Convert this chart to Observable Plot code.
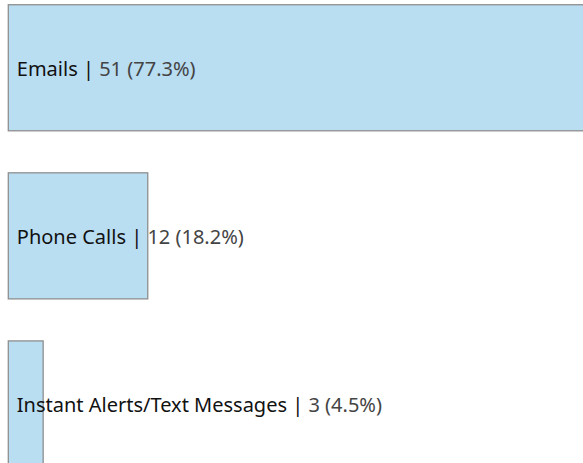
<!DOCTYPE html>
<html>
<head>
<meta charset="utf-8">
<script src="https://cdn.jsdelivr.net/npm/d3@7"></script>
<script src="https://cdn.jsdelivr.net/npm/@observablehq/plot@0.6"></script>
<style>
  html, body { margin: 0; padding: 0; background: #fff; }
  svg { overflow: hidden; display: block; }
</style>
</head>
<body>
<div id="chart"></div>
<script>
const categories = ["Emails", "Phone Calls", "Instant Alerts/Text Messages"];
const counts = [51, 12, 3];
const percents = ["77.3%", "18.2%", "4.5%"];

const data = categories.map((c, i) => ({
  category: c,
  count: counts[i],
  pct: percents[i],
  label: `${c} | ${counts[i]} (${percents[i]})`
}));

const chart = Plot.plot({
  width: 583,
  height: 463,
  margin: 0,
  style: { fontFamily: "'Noto Sans', sans-serif", fontSize: "20px", background: "#fff", overflow: "hidden" },
  x: { domain: [0, 51], range: [8.3, 601], axis: null },
  y: { domain: categories, range: [-37.3, 509], padding: 0.25, round: false, axis: null },
  marks: [
    Plot.barX(data, { x: "count", y: "category", fill: "#b9ddf1", stroke: "#8f8f8f", strokeWidth: 1.3 }),
    Plot.text(data, {
      x: 0, y: "category", text: "label", dx: 8, dy: 1,
      textAnchor: "start", fill: "#111", fontSize: 20
    })
  ]
});

document.getElementById("chart").appendChild(chart);

// Split each label into a dark name part and a lighter value part
d3.select(chart).selectAll("text").each(function(d, i) {
  const el = d3.select(this);
  const full = el.text();
  const idx = full.indexOf("|");
  if (idx < 0) return;
  const namePart = full.slice(0, idx + 1) + " ";
  const valuePart = full.slice(idx + 2);
  el.text(null);
  el.append("tspan").attr("fill", "#111").text(namePart);
  el.append("tspan").attr("fill", "#444").text(valuePart);
});
</script>
</body>
</html>
